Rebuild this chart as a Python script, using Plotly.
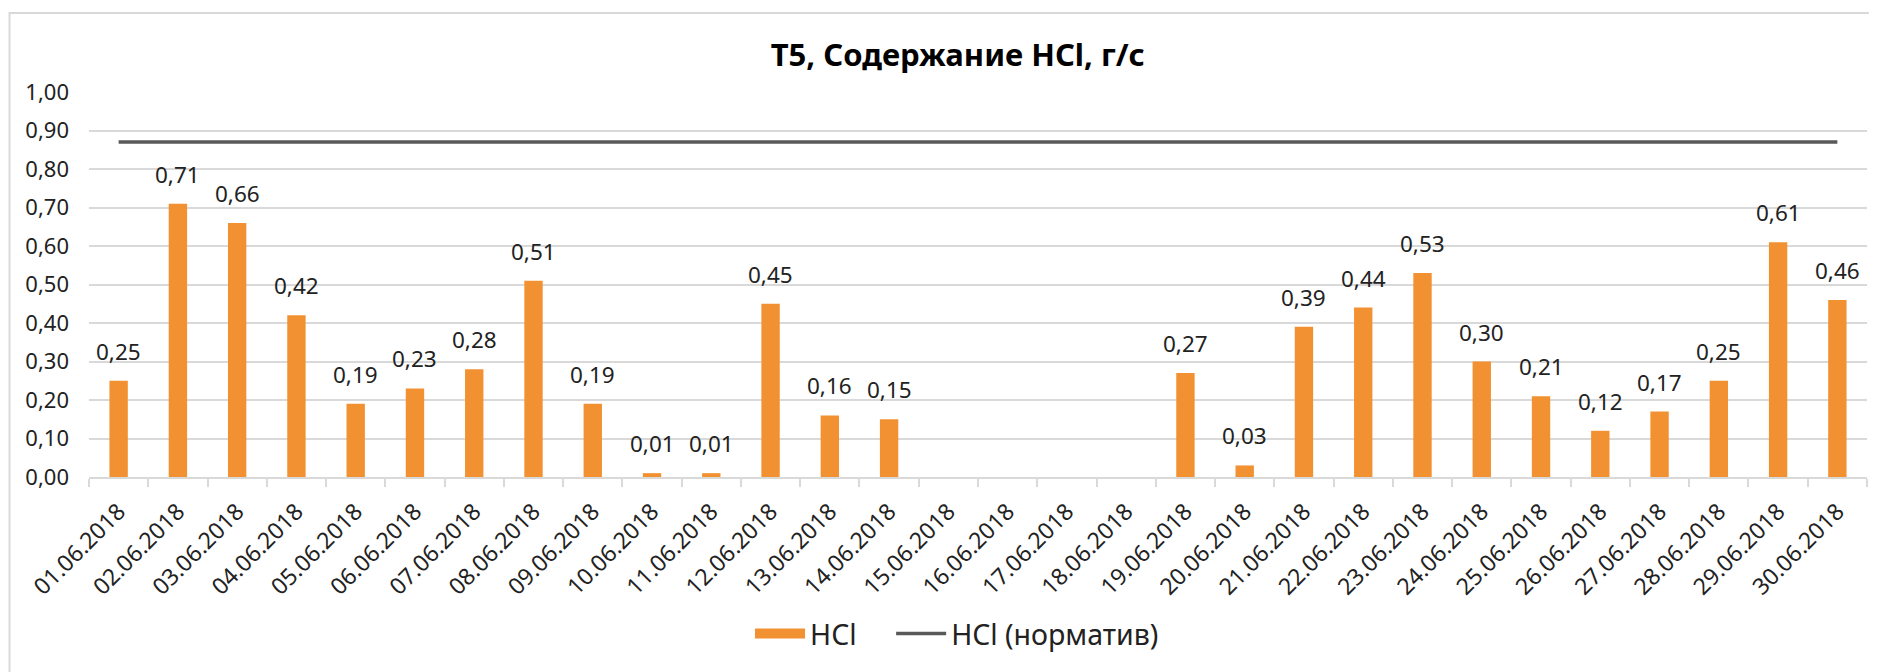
import plotly.graph_objects as go

dates = ["01.06.2018", "02.06.2018", "03.06.2018", "04.06.2018", "05.06.2018",
         "06.06.2018", "07.06.2018", "08.06.2018", "09.06.2018", "10.06.2018",
         "11.06.2018", "12.06.2018", "13.06.2018", "14.06.2018", "15.06.2018",
         "16.06.2018", "17.06.2018", "18.06.2018", "19.06.2018", "20.06.2018",
         "21.06.2018", "22.06.2018", "23.06.2018", "24.06.2018", "25.06.2018",
         "26.06.2018", "27.06.2018", "28.06.2018", "29.06.2018", "30.06.2018"]
hcl = [0.25, 0.71, 0.66, 0.42, 0.19, 0.23, 0.28, 0.51, 0.19, 0.01,
       0.01, 0.45, 0.16, 0.15, None, None, None, None, 0.27, 0.03,
       0.39, 0.44, 0.53, 0.30, 0.21, 0.12, 0.17, 0.25, 0.61, 0.46]
norm = [0.87] * len(dates)

title_text = "T5, Содержание HCl, г/с"
FONT = "Noto Sans"
TXT = "#222222"
GRID = "#D9D9D9"
ORANGE = "#F29132"

fig = go.Figure()
fig.add_trace(go.Bar(x=dates, y=hcl, name="HCl", marker_color=ORANGE,
                     marker_line_width=0, width=0.31, showlegend=False, legendgroup="hcl"))
# legend entry for the bars (wide swatch like the original)
fig.add_trace(go.Scatter(x=[dates[0]], y=[None], name="HCl" + "\u00a0" * 4, mode="lines",
                         line=dict(color=ORANGE, width=18), legendgroup="hcl",
                         hoverinfo="skip"))
fig.add_trace(go.Scatter(x=dates, y=norm, name="HCl (норматив)", mode="lines",
                         line=dict(color="#595959", width=3.5)))

for d, v in zip(dates, hcl):
    if v is None:
        continue
    fig.add_annotation(x=d, y=v, text=f"{v:.2f}".replace(".", ","), showarrow=False,
                       yanchor="bottom", yshift=12,
                       font=dict(family=FONT, size=22.5, color=TXT))

fig.add_shape(type="rect", xref="paper", yref="paper", x0=-0.0447, x1=1.03, y0=-0.7, y1=1.205,
              line=dict(color=GRID, width=2), fillcolor="rgba(0,0,0,0)", layer="below")

fig.update_layout(
    width=1877, height=672,
    margin=dict(l=81, r=18, t=84, b=203),
    paper_bgcolor="white", plot_bgcolor="white",
    separators=", ",
    font=dict(family=FONT, size=22, color=TXT),
    title=dict(text=f"<b>{title_text}</b>", x=0.506, xref="container", xanchor="center",
               y=1 - 47 / 672, yref="container", yanchor="middle",
               font=dict(family=FONT, size=31, color="#000000")),
    bargap=0.69,
    showlegend=True,
    legend=dict(orientation="h", x=0.5056, xref="container", xanchor="center",
                y=1 - 626 / 672, yref="container", yanchor="middle",
                font=dict(family=FONT, size=28.5, color=TXT), itemwidth=50,
                bgcolor="rgba(0,0,0,0)"),
    xaxis=dict(type="category", tickangle=-45, tickson="boundaries", ticks="outside",
               ticklen=8, tickcolor=GRID, tickwidth=2, showline=True, linecolor=GRID,
               linewidth=2, showgrid=False, automargin=False, ticklabelstandoff=10,
               tickfont=dict(family=FONT, size=23, color=TXT)),
    yaxis=dict(range=[0, 1.0], dtick=0.1, tickformat=".2f", showgrid=True, gridcolor=GRID,
               gridwidth=2, zeroline=False, showline=False, ticks="", automargin=False,
               ticklabelstandoff=19,
               tickfont=dict(family=FONT, size=22, color=TXT)),
)
fig.update_xaxes(range=[-0.5, len(dates) - 0.5])

fig.write_html("out.html")
